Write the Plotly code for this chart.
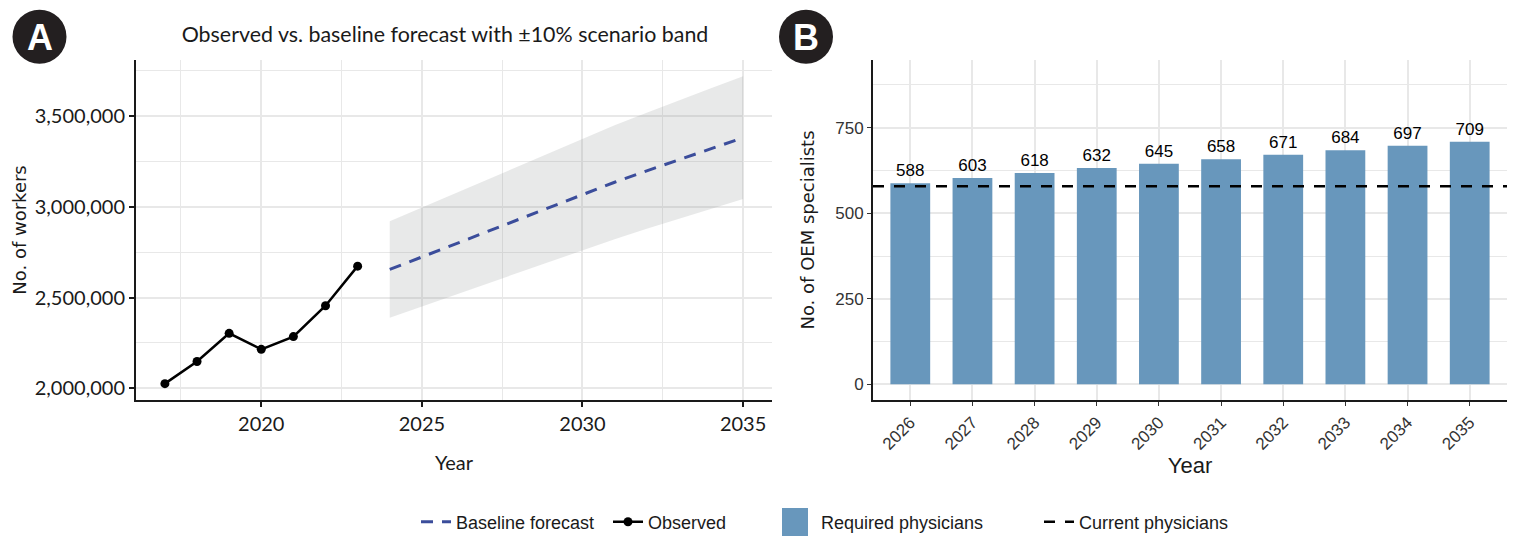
import plotly.graph_objects as go

# the page puts the figure 8px in from the top-left corner
OFF = 8
W, H = 1518 - OFF, 541 - OFF

# Panel A: observed and forecast number of workers
obs_years = [2017, 2018, 2019, 2020, 2021, 2022, 2023]
obs_workers = [2026000, 2148000, 2303000, 2215000, 2285000, 2455000, 2673000]
fc_years = [2024, 2025, 2026, 2027, 2028, 2029, 2030, 2031, 2032, 2033, 2034, 2035]
fc_workers = [2655000, 2724000, 2793000, 2862000, 2930000, 3000000,
              3070000, 3135000, 3198000, 3260000, 3320000, 3380000]
band_pct = 0.10

# Panel B: required vs current OEM specialists
bar_years = [2026, 2027, 2028, 2029, 2030, 2031, 2032, 2033, 2034, 2035]
required = [588, 603, 618, 632, 645, 658, 671, 684, 697, 709]
current = 579

fc_upper = [v * (1 + band_pct) for v in fc_workers]
fc_lower = [v * (1 - band_pct) for v in fc_workers]

BAR_COLOR = "rgb(104,151,188)"
FC_COLOR = "#3B4D9B"
GRID = "#e8e8e8"


def px(x):
    return (x - OFF) / W


def py(y):
    return 1 - (y - OFF) / H


fig = go.Figure()

# scenario band
fig.add_trace(go.Scatter(x=fc_years, y=fc_lower, mode="lines", line=dict(width=0),
                         showlegend=False, hoverinfo="skip", xaxis="x", yaxis="y"))
fig.add_trace(go.Scatter(x=fc_years, y=fc_upper, mode="lines", line=dict(width=0),
                         fill="tonexty", fillcolor="rgba(128,134,134,0.18)",
                         showlegend=False, hoverinfo="skip", xaxis="x", yaxis="y"))
fig.add_trace(go.Scatter(x=fc_years, y=fc_workers, mode="lines", name="Baseline forecast",
                         line=dict(color=FC_COLOR, width=3, dash="12px,9px"),
                         xaxis="x", yaxis="y", legend="legend"))
fig.add_trace(go.Scatter(x=obs_years, y=obs_workers, mode="lines+markers", name="Observed",
                         line=dict(color="black", width=2.5),
                         marker=dict(color="black", size=9),
                         xaxis="x", yaxis="y", legend="legend2"))

# bars
fig.add_trace(go.Bar(x=bar_years, y=required, width=0.64, name="Required physicians",
                     marker=dict(color=BAR_COLOR, line=dict(width=0)),
                     text=[str(v) for v in required], textposition="outside",
                     textfont=dict(family="Liberation Sans", size=17, color="black"),
                     cliponaxis=False, xaxis="x2", yaxis="y2", legend="legend3"))

fig.add_shape(type="line", xref="x2 domain", yref="y2", x0=0, x1=1, y0=current, y1=current,
              line=dict(color="black", width=2.5, dash="11px,10px"),
              showlegend=True, name="Current physicians", legend="legend4")

ydom = [py(400), py(60)]
tick_font_a = dict(family="Lato", size=20, color="#1a1a1a")
tick_font_b = dict(family="Liberation Sans", size=17, color="#333333")

fig.update_layout(
    width=W, height=H, autosize=False,
    margin=dict(l=0, r=0, t=0, b=0),
    paper_bgcolor="white", plot_bgcolor="white",
    separators=".,",
    title=dict(text="Observed vs. baseline forecast with ±10% scenario band",
               x=px(445), xanchor="center", y=py(35), yanchor="middle",
               font=dict(family="Lato", size=21.4, color="#1a1a1a")),
    xaxis=dict(domain=[px(136), px(772)], range=[2016.1, 2035.9],
               tick0=2020, dtick=5, ticks="outside", ticklen=5, tickwidth=1.5,
               tickcolor="#1a1a1a", tickfont=tick_font_a,
               showline=True, linecolor="#1a1a1a", linewidth=2,
               showgrid=True, gridcolor=GRID, gridwidth=1.5, zeroline=False,
               minor=dict(dtick=2.5, tick0=2020, showgrid=True, gridcolor=GRID, gridwidth=1.1),
               title=dict(text="Year", standoff=22,
                          font=dict(family="Lato", size=20, color="#1a1a1a"))),
    yaxis=dict(domain=ydom, range=[1936000, 3808000],
               tick0=0, dtick=500000, tickformat=",", ticks="outside", ticklen=5,
               tickwidth=1.5, tickcolor="#1a1a1a", tickfont=tick_font_a,
               showline=True, linecolor="#1a1a1a", linewidth=2,
               showgrid=True, gridcolor=GRID, gridwidth=1.5, zeroline=False,
               minor=dict(dtick=250000, showgrid=True, gridcolor=GRID, gridwidth=1.1),
               title=dict(text="No. of workers", standoff=3,
                          font=dict(family="DejaVu Sans", size=18, color="#1a1a1a"))),
    xaxis2=dict(domain=[px(873), px(1507)], range=[2025.4, 2035.6], anchor="y2",
                tickvals=bar_years, ticktext=[str(y) for y in bar_years], tickangle=-45,
                ticks="outside", ticklen=4, tickwidth=1.2, tickcolor="#333333",
                tickfont=tick_font_b,
                showline=True, linecolor="#1a1a1a", linewidth=2,
                showgrid=True, gridcolor=GRID, gridwidth=1.5, zeroline=False,
                title=dict(text="Year", standoff=4,
                           font=dict(family="Liberation Sans", size=22, color="#1a1a1a"))),
    yaxis2=dict(domain=ydom, range=[-46, 948], anchor="x2",
                tick0=0, dtick=250, ticks="outside", ticklen=4, tickwidth=1.2,
                tickcolor="#333333", tickfont=dict(family="Liberation Sans", size=17, color="#333333"),
                showline=True, linecolor="#1a1a1a", linewidth=2,
                showgrid=True, gridcolor=GRID, gridwidth=1.5, zeroline=False,
                minor=dict(dtick=125, showgrid=True, gridcolor=GRID, gridwidth=1.1),
                title=dict(text="No. of OEM specialists", standoff=16,
                           font=dict(family="DejaVu Sans", size=18, color="#1a1a1a"))),
)

legend_font = dict(family="Liberation Sans", size=18, color="#1a1a1a")
for key, text_x in [("legend", 456), ("legend2", 648), ("legend3", 821), ("legend4", 1079)]:
    fig.update_layout({key: dict(x=px(text_x - 40), xanchor="left", y=py(522), yanchor="middle",
                                 orientation="h", font=legend_font, bgcolor="rgba(0,0,0,0)",
                                 borderwidth=0)})

# large key square for the bars
fig.add_shape(type="rect", xref="paper", yref="paper", x0=px(782), x1=px(808),
              y0=py(536), y1=py(508), fillcolor=BAR_COLOR, line=dict(width=0), layer="above")

# panel letters
for cx, letter in [(39.5, "A"), (806, "B")]:
    fig.add_shape(type="circle", xref="paper", yref="paper",
                  x0=px(cx - 27), x1=px(cx + 27), y0=py(36.7 + 27), y1=py(36.7 - 27),
                  fillcolor="#231f20", line=dict(width=0), layer="above")
    fig.add_annotation(x=px(cx), y=py(37.5), xref="paper", yref="paper", text=letter,
                       showarrow=False, xanchor="center", yanchor="middle",
                       font=dict(family="Liberation Sans", size=36, color="white", weight="bold"))

fig.write_html("out.html")
